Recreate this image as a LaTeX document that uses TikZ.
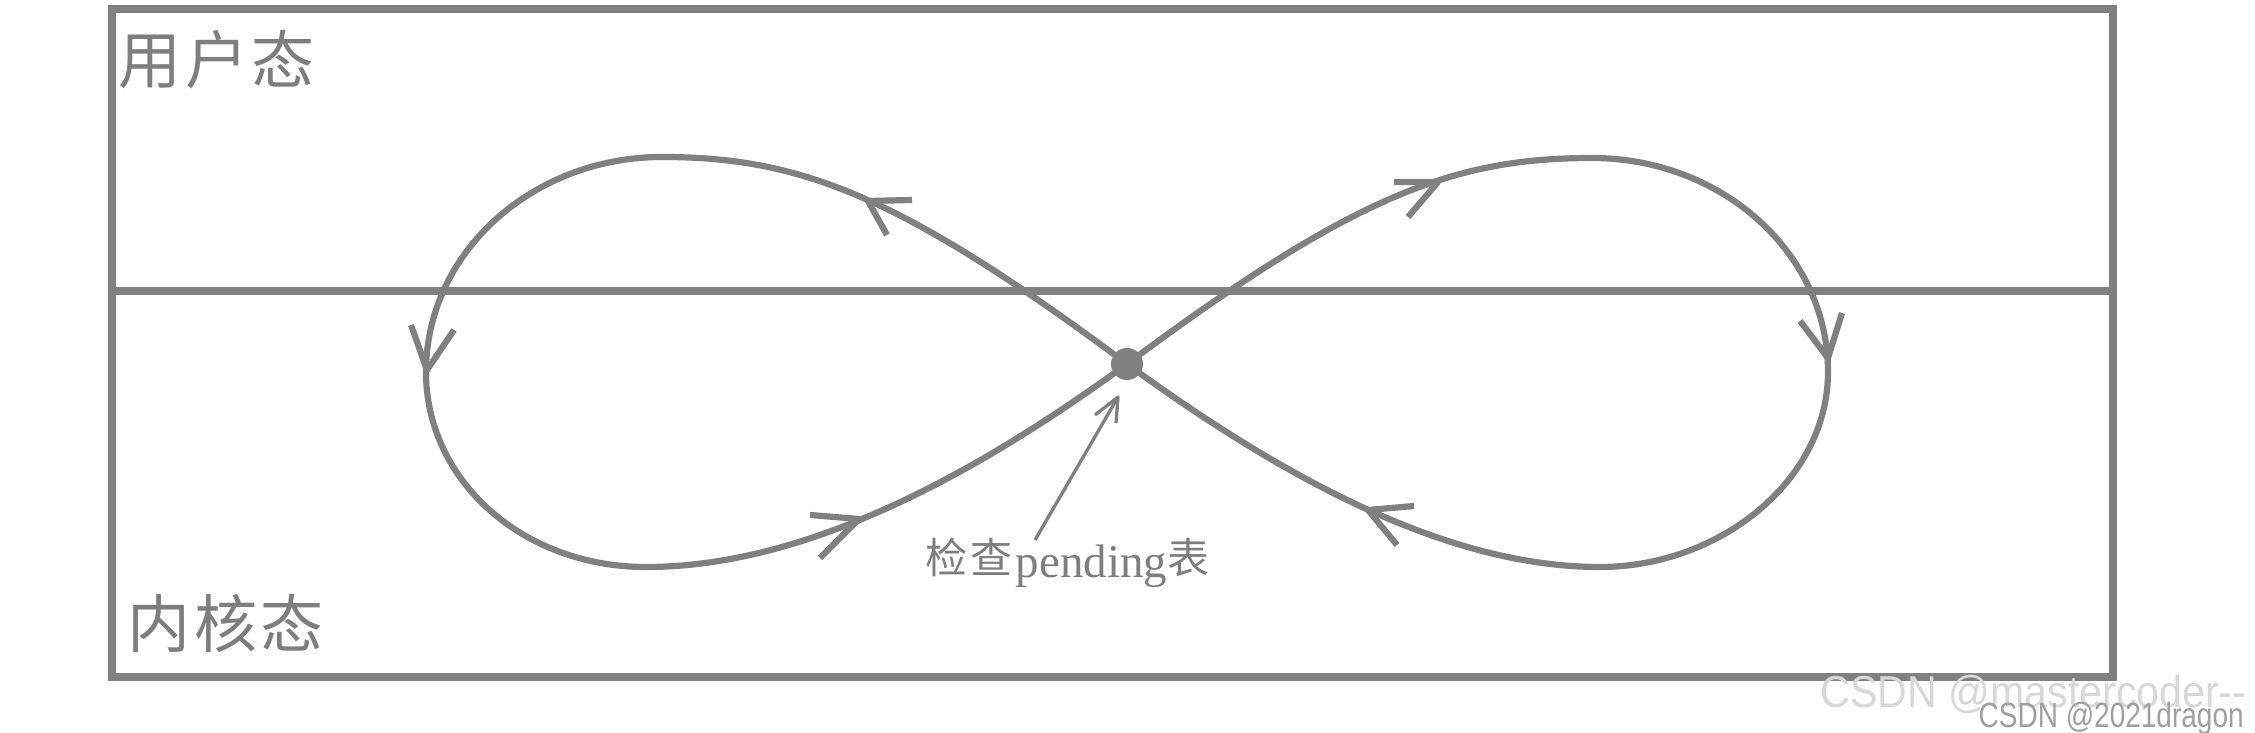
\documentclass[tikz,border=0pt]{standalone}
\usepackage{fontspec}
\usepackage{graphicx}
\newfontfamily\cjk{Noto Sans CJK SC}
\newfontfamily\wmfont{Liberation Sans}
\newfontfamily\labserif{Liberation Serif}
\definecolor{lg}{HTML}{808080}
\definecolor{txtg}{HTML}{7E7E7E}
\definecolor{wmlight}{HTML}{D8D8D8}
\definecolor{wmdark}{HTML}{A0A0A0}
\tikzset{
  frame/.style={draw=lg, line width=0.75mm},
  loopline/.style={draw=lg, line width=0.62mm, line join=round},
  chev/.style={draw=lg, line width=0.62mm, line join=round, line cap=butt},
  ptrline/.style={draw=lg, line width=0.33mm, line join=round},
  statelab/.style={anchor=base west, inner sep=0pt, text=txtg, font=\cjk\fontsize{6.3mm}{7mm}\selectfont},
  wmtext/.style={anchor=base west, inner sep=0pt},
}
\begin{document}
\begin{tikzpicture}[x=0.1mm,y=-0.1mm]
\useasboundingbox (0,0) rectangle (2255,733);
\fill[white] (0,0) rectangle (2255,733);

% frame and divider
\draw[frame] (112,9) rectangle (2113,677);
\draw[frame] (112,291) -- (2113,291);

% state labels
\node[statelab] (user) at (118,84) {用\kern0.35mm 户\kern0.35mm 态};
\node[statelab] (kern) at (127,648) {内\kern0.35mm 核\kern0.35mm 态};

% figure-eight loop
\coordinate (X) at (1127,364);
\draw[loopline] (X) .. controls (900,195) and (800,157) .. (662,157)
  .. controls (532,157) and (426,253) .. (426,372)
  .. controls (426,480) and (522,567) .. (646,567)
  .. controls (800,567) and (965,482) .. (X)
  .. controls (1354,195) and (1454,158) .. (1592,158)
  .. controls (1722,158) and (1828,253) .. (1828,372)
  .. controls (1828,480) and (1720,567) .. (1600,567)
  .. controls (1450,567) and (1289,482) .. (X) -- cycle;

% direction chevrons
\draw[chev] (912,200) -- (868,201) -- (887,235);
\draw[chev] (411,325) -- (427,370) -- (454,330);
\draw[chev] (810,515) -- (859,519) -- (820,558);
\draw[chev] (1394,182) -- (1438,182) -- (1408,217);
\draw[chev] (1800,321) -- (1828,358) -- (1842,313);
\draw[chev] (1414,506) -- (1368,510) -- (1397,545);

% check point
\node[circle, fill=lg, inner sep=0pt, minimum size=3.2mm] (chk) at (X) {};

% pointer label
\node[anchor=base west, inner sep=0pt, text=txtg] (lab) at (925,577)
  {\raisebox{0.35mm}{\cjk\fontsize{4.2mm}{5mm}\selectfont 检\kern0.3mm 查}\kern0.3mm{\labserif\fontsize{4.7mm}{5mm}\selectfont pending}\raisebox{0.35mm}{\cjk\fontsize{4.2mm}{5mm}\selectfont 表}};
\coordinate (ptail) at (1035,540);
\coordinate (ptip) at (1118,397);
\draw[ptrline] (ptail) -- (ptip);
\draw[ptrline] (ptip) ++(-23,18) -- (ptip) -- ++(-2,26);

% watermarks
\node[wmtext, text=wmlight] (wm1) at (1820,707)
  {\scalebox{0.92}[1]{\wmfont\fontsize{4.47mm}{5mm}\selectfont CSDN @mastercoder--}};
\node[wmtext, text=wmdark] (wm2) at (1978,727)
  {\scalebox{0.8}[1]{\wmfont\fontsize{3.5mm}{4mm}\selectfont CSDN @2021dragon}};
\end{tikzpicture}
\end{document}
